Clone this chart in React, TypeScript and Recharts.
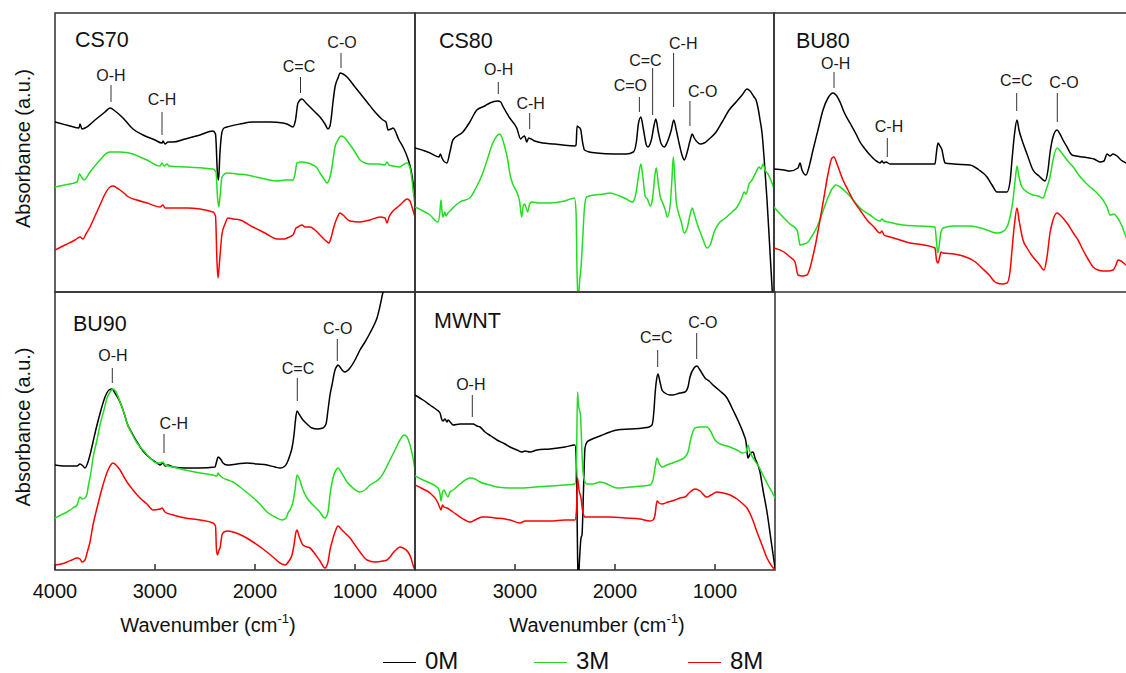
import React from 'react';
import { LineChart, Line, XAxis, YAxis, ReferenceArea, ReferenceLine, ReferenceDot } from 'recharts';

// FTIR spectra of the five samples, each treated at 0M, 3M and 8M.
// Points are [wavenumber (cm-1), absorbance (a.u., curves stacked with an offset)].
type Pt = [number, number];

const FONT = "Arial, 'Liberation Sans', Helvetica, sans-serif";
const WN_DOMAIN: [number, number] = [400, 4000];
const WN_TICKS = [4000, 3000, 2000, 1000];
const SERIES_NAMES = ['0M', '3M', '8M'];
const SERIES_COLORS = ['#000000', '#22dd22', '#ff0000'];

// ---------- CS70 ----------
const CS70_0M: Pt[] = [
  [4000, 170], [3850, 166], [3760, 164], [3750, 168], [3730, 163], [3700, 164], [3600, 172], [3500, 180],
  [3450, 184], [3400, 181], [3320, 174], [3220, 163], [3120, 157], [3000, 152], [2930, 149], [2920, 151],
  [2900, 148], [2870, 150], [2820, 150], [2700, 153], [2550, 157], [2420, 161], [2395, 158], [2375, 118],
  [2365, 112], [2350, 140], [2330, 160], [2310, 164], [2280, 165], [2150, 168], [2020, 170], [1850, 170],
  [1720, 169], [1680, 168], [1620, 165], [1595, 172], [1570, 189], [1530, 193], [1490, 189], [1450, 185],
  [1400, 180], [1350, 175], [1300, 168], [1270, 163], [1250, 166], [1240, 172], [1220, 190], [1200, 205],
  [1170, 214], [1150, 219], [1120, 218], [1080, 215], [1000, 205], [880, 190], [800, 180], [720, 172],
  [690, 170], [670, 162], [640, 163], [620, 164], [560, 152], [520, 145], [470, 133], [440, 122],
  [420, 110], [400, 95],
];
const CS70_3M: Pt[] = [
  [4000, 105], [3900, 107], [3780, 110], [3755, 118], [3740, 116], [3710, 112], [3650, 120], [3550, 132],
  [3480, 139], [3450, 140], [3350, 140], [3220, 138], [3150, 135], [3080, 132], [2950, 126], [2930, 129],
  [2910, 126], [2880, 128], [2860, 126], [2680, 125], [2420, 123], [2390, 120], [2375, 95], [2362, 85],
  [2350, 95], [2330, 115], [2280, 119], [2180, 118], [2080, 117], [1900, 113], [1780, 111], [1700, 112],
  [1620, 112], [1600, 118], [1580, 129], [1530, 130], [1470, 129], [1420, 127], [1380, 124], [1350, 119],
  [1310, 113], [1280, 109], [1250, 115], [1230, 125], [1200, 145], [1170, 152], [1140, 156], [1100, 154],
  [1070, 150], [1000, 140], [950, 132], [900, 129], [850, 128], [760, 128], [700, 127], [680, 130],
  [660, 127], [620, 126], [560, 125], [520, 127], [480, 129], [450, 124], [430, 112], [415, 98], [400, 87],
];
const CS70_8M: Pt[] = [
  [4000, 42], [3900, 47], [3800, 52], [3750, 55], [3720, 53], [3690, 58], [3650, 65], [3600, 76],
  [3550, 87], [3500, 98], [3450, 105], [3420, 106], [3380, 104], [3350, 102], [3300, 98], [3280, 96],
  [3180, 92], [3080, 89], [2950, 85], [2920, 87], [2900, 84], [2680, 84], [2420, 80], [2395, 76],
  [2380, 30], [2370, 14], [2355, 30], [2330, 58], [2300, 68], [2270, 74], [2220, 73], [2150, 72],
  [2020, 65], [1900, 59], [1780, 53], [1700, 53], [1680, 54], [1620, 57], [1590, 64], [1570, 65],
  [1530, 67], [1500, 65], [1450, 65], [1400, 62], [1350, 57], [1300, 52], [1260, 49], [1240, 54],
  [1220, 62], [1180, 74], [1150, 79], [1120, 77], [1080, 73], [1050, 71], [950, 70], [850, 72],
  [750, 75], [700, 74], [680, 69], [660, 75], [620, 81], [560, 86], [520, 90], [480, 93], [450, 91],
  [430, 85], [400, 75],
];

// ---------- CS80 ----------
const CS80_0M: Pt[] = [
  [4000, 144], [3900, 141], [3850, 139], [3760, 135], [3745, 138], [3730, 134], [3680, 129], [3650, 140],
  [3620, 152], [3520, 160], [3450, 170], [3380, 182], [3300, 186], [3250, 189], [3170, 191], [3140, 190],
  [3120, 186], [3050, 174], [2980, 164], [2940, 153], [2920, 155], [2900, 156], [2880, 150], [2860, 154],
  [2800, 151], [2720, 149], [2600, 148], [2520, 147], [2400, 146], [2385, 147], [2375, 166], [2360, 165],
  [2340, 163], [2320, 150], [2300, 142], [2250, 140], [2180, 139], [2000, 138], [1880, 138], [1810, 140],
  [1780, 150], [1760, 168], [1735, 175], [1710, 163], [1680, 147], [1665, 145], [1630, 152], [1600, 168],
  [1585, 173], [1560, 160], [1530, 148], [1500, 145], [1470, 150], [1430, 162], [1405, 172], [1380, 162],
  [1350, 148], [1320, 136], [1300, 132], [1270, 140], [1240, 152], [1220, 158], [1200, 154], [1170, 150],
  [1140, 148], [1100, 149], [1050, 153], [980, 160], [920, 170], [850, 182], [780, 190], [720, 197],
  [670, 203], [640, 201], [600, 195], [580, 192], [560, 184], [540, 172], [520, 159], [500, 135],
  [470, 92], [440, 40], [420, 5], [400, -30],
];
const CS80_3M: Pt[] = [
  [4000, 85], [3900, 80], [3850, 77], [3770, 70], [3750, 80], [3740, 92], [3730, 82], [3720, 75],
  [3700, 80], [3690, 76], [3670, 79], [3640, 82], [3600, 86], [3550, 90], [3450, 94], [3400, 102],
  [3320, 119], [3270, 134], [3220, 149], [3180, 156], [3150, 158], [3130, 155], [3100, 145], [3070, 132],
  [3050, 119], [3020, 108], [2980, 100], [2950, 90], [2930, 75], [2915, 86], [2900, 88], [2885, 84],
  [2870, 80], [2850, 88], [2830, 90], [2750, 89], [2650, 89], [2500, 91], [2400, 94], [2385, 80],
  [2375, 20], [2365, -10], [2350, 10], [2335, 25], [2320, 50], [2300, 85], [2280, 95], [2200, 97],
  [2100, 98], [2050, 99], [1950, 96], [1880, 93], [1820, 90], [1790, 96], [1760, 115], [1735, 128],
  [1715, 115], [1690, 95], [1670, 93], [1640, 86], [1620, 92], [1590, 120], [1580, 124], [1560, 108],
  [1540, 95], [1520, 90], [1490, 82], [1470, 75], [1440, 88], [1425, 110], [1410, 135], [1395, 115],
  [1380, 90], [1360, 80], [1330, 70], [1300, 59], [1270, 64], [1240, 78], [1220, 84], [1200, 78],
  [1170, 68], [1140, 60], [1110, 52], [1070, 44], [1040, 47], [1000, 60], [950, 69], [900, 73],
  [820, 80], [770, 85], [720, 95], [700, 100], [680, 98], [650, 108], [620, 112], [580, 120],
  [550, 125], [530, 123], [510, 128], [490, 122], [460, 118], [420, 109], [400, 103],
];

// ---------- BU80 ----------
const BU80_0M: Pt[] = [
  [4000, 123], [3900, 122], [3840, 121], [3760, 124], [3740, 129], [3720, 122], [3680, 117], [3650, 125],
  [3610, 142], [3560, 162], [3510, 182], [3460, 194], [3410, 199], [3380, 197], [3340, 190], [3300, 180],
  [3240, 169], [3180, 158], [3140, 150], [3090, 143], [3040, 137], [2990, 132], [2940, 129], [2920, 131],
  [2905, 129], [2880, 130], [2840, 128], [2640, 128], [2390, 128], [2375, 140], [2360, 149], [2340, 146],
  [2320, 142], [2300, 132], [2290, 129], [2200, 128], [2040, 127], [1950, 122], [1870, 115], [1820, 107],
  [1770, 100], [1720, 100], [1670, 100], [1640, 110], [1620, 132], [1595, 158], [1570, 172], [1550, 162],
  [1510, 149], [1470, 138], [1410, 122], [1350, 116], [1290, 111], [1260, 122], [1240, 139], [1210, 155],
  [1170, 162], [1140, 158], [1110, 152], [1070, 145], [1020, 137], [980, 136], [910, 135], [850, 134],
  [800, 133], [740, 130], [700, 131], [670, 138], [640, 136], [610, 138], [570, 136], [530, 132],
  [480, 129], [440, 127], [400, 125],
];
const BU80_3M: Pt[] = [
  [4000, 85], [3910, 75], [3840, 68], [3770, 62], [3750, 52], [3740, 47], [3700, 48], [3670, 49],
  [3620, 56], [3570, 65], [3520, 78], [3470, 92], [3420, 103], [3380, 107], [3340, 105], [3270, 99],
  [3200, 91], [3140, 84], [3040, 77], [2940, 71], [2920, 73], [2900, 71], [2860, 70], [2710, 67],
  [2550, 66], [2390, 65], [2375, 50], [2362, 39], [2350, 45], [2330, 60], [2310, 64], [2200, 66],
  [2040, 66], [1900, 63], [1770, 59], [1720, 60], [1670, 65], [1640, 75], [1610, 92], [1585, 115],
  [1570, 126], [1550, 115], [1520, 105], [1470, 100], [1410, 97], [1360, 96], [1310, 94], [1280, 102],
  [1240, 115], [1210, 132], [1170, 144], [1130, 140], [1070, 132], [1000, 124], [960, 118], [910, 112],
  [850, 106], [780, 100], [710, 92], [670, 85], [640, 77], [600, 78], [570, 75], [520, 66], [480, 55],
  [440, 48], [400, 42],
];
const BU80_8M: Pt[] = [
  [4000, 44], [3900, 40], [3840, 35], [3790, 30], [3760, 17], [3720, 16], [3670, 17], [3640, 24],
  [3620, 32], [3580, 50], [3540, 72], [3500, 95], [3460, 118], [3420, 134], [3400, 135], [3370, 128],
  [3310, 112], [3260, 102], [3210, 92], [3140, 82], [3070, 72], [3000, 65], [2940, 59], [2920, 61],
  [2900, 57], [2840, 55], [2740, 52], [2640, 49], [2500, 47], [2390, 44], [2375, 32], [2360, 29],
  [2345, 34], [2330, 40], [2310, 39], [2200, 38], [2110, 36], [2000, 31], [1910, 23], [1840, 16],
  [1790, 10], [1770, 9], [1720, 8], [1670, 9], [1640, 20], [1620, 42], [1595, 68], [1570, 84],
  [1550, 72], [1510, 52], [1470, 44], [1410, 35], [1350, 28], [1300, 22], [1270, 35], [1240, 59],
  [1210, 72], [1170, 79], [1130, 76], [1070, 69], [1000, 58], [960, 52], [910, 42], [860, 33],
  [810, 25], [760, 22], [710, 21], [660, 21], [610, 22], [580, 27], [560, 32], [530, 31], [480, 27],
  [440, 24], [400, 22],
];

// ---------- BU90 ----------
const BU90_0M: Pt[] = [
  [4000, 105], [3900, 104], [3780, 104], [3750, 106], [3720, 104], [3700, 102], [3670, 108], [3650, 115],
  [3620, 128], [3580, 145], [3540, 160], [3500, 173], [3460, 180], [3430, 181], [3400, 177], [3350, 168],
  [3300, 154], [3280, 147], [3230, 137], [3180, 128], [3120, 119], [3050, 112], [2980, 107], [2950, 105],
  [2920, 107], [2900, 104], [2870, 105], [2820, 103], [2700, 102], [2550, 102], [2400, 103], [2385, 108],
  [2370, 113], [2345, 111], [2320, 107], [2280, 105], [2180, 106], [2080, 107], [1980, 106], [1880, 105],
  [1800, 103], [1750, 102], [1700, 104], [1680, 107], [1650, 115], [1630, 122], [1610, 135], [1595, 150],
  [1580, 159], [1560, 156], [1520, 150], [1480, 146], [1430, 142], [1380, 141], [1320, 142], [1290, 146],
  [1270, 160], [1250, 175], [1230, 185], [1200, 200], [1180, 204], [1170, 205], [1150, 203], [1120, 199],
  [1100, 198], [1080, 199], [1050, 202], [1000, 210], [950, 220], [900, 228], [850, 237], [800, 247],
  [780, 252], [750, 264], [720, 278], [650, 300], [550, 330], [450, 360], [400, 375],
];
const BU90_3M: Pt[] = [
  [4000, 52], [3940, 55], [3880, 58], [3820, 62], [3780, 65], [3750, 73], [3730, 71], [3700, 72],
  [3680, 76], [3670, 82], [3640, 98], [3620, 112], [3580, 130], [3550, 145], [3510, 160], [3480, 172],
  [3450, 178], [3420, 181], [3390, 178], [3350, 168], [3300, 154], [3280, 147], [3230, 136], [3180, 127],
  [3120, 120], [3050, 112], [2980, 107], [2950, 107], [2920, 108], [2900, 105], [2820, 103], [2700, 100],
  [2550, 97], [2420, 95], [2380, 94], [2370, 97], [2355, 95], [2320, 92], [2270, 90], [2220, 88],
  [2150, 83], [2050, 75], [1960, 67], [1880, 58], [1800, 53], [1730, 50], [1690, 52], [1670, 57],
  [1640, 62], [1620, 68], [1600, 80], [1580, 95], [1560, 92], [1520, 80], [1480, 72], [1420, 65],
  [1360, 59], [1300, 52], [1270, 58], [1250, 75], [1220, 92], [1190, 100], [1170, 102], [1140, 98],
  [1080, 88], [1020, 82], [950, 78], [900, 80], [850, 85], [800, 88], [750, 92], [700, 100], [650, 110],
  [600, 120], [550, 130], [510, 135], [480, 133], [450, 125], [420, 112], [400, 100],
];
const BU90_8M: Pt[] = [
  [4000, 5], [3940, 6], [3880, 8], [3830, 10], [3780, 12], [3750, 11], [3730, 8], [3700, 10],
  [3680, 17], [3650, 28], [3620, 45], [3580, 62], [3520, 85], [3470, 100], [3420, 107], [3390, 105],
  [3350, 100], [3310, 93], [3280, 88], [3220, 80], [3150, 72], [3080, 66], [3020, 60], [2950, 61],
  [2930, 62], [2900, 58], [2820, 55], [2700, 52], [2550, 50], [2420, 47], [2395, 44], [2385, 20],
  [2375, 15], [2360, 20], [2350, 22], [2330, 35], [2310, 38], [2270, 39], [2220, 38], [2120, 34],
  [2020, 28], [1920, 21], [1820, 13], [1750, 7], [1700, 5], [1660, 9], [1630, 15], [1610, 25],
  [1590, 38], [1580, 40], [1560, 34], [1520, 25], [1480, 23], [1450, 22], [1400, 16], [1350, 9],
  [1300, 2], [1270, 8], [1250, 20], [1230, 28], [1200, 38], [1170, 44], [1140, 41], [1100, 37],
  [1050, 32], [1000, 25], [950, 18], [880, 10], [800, 8], [720, 9], [680, 10], [650, 13], [620, 17],
  [580, 21], [550, 23], [520, 22], [470, 18], [440, 12], [420, 5], [400, 0],
];

// ---------- MWNT ----------
const MWNT_0M: Pt[] = [
  [4000, 175], [3920, 170], [3850, 165], [3780, 160], [3750, 157], [3730, 150], [3720, 149], [3700, 151],
  [3680, 148], [3670, 150], [3640, 147], [3620, 145], [3550, 146], [3420, 146], [3380, 144], [3350, 143],
  [3300, 138], [3240, 134], [3180, 130], [3100, 126], [3050, 123], [2980, 120], [2930, 118], [2900, 119],
  [2850, 118], [2780, 120], [2650, 121], [2500, 123], [2400, 125], [2385, 100], [2375, 20], [2368, -15],
  [2355, 10], [2340, 32], [2330, 35], [2315, 80], [2300, 122], [2280, 128], [2250, 130], [2150, 134],
  [2050, 138], [1980, 140], [1850, 141], [1720, 142], [1660, 143], [1630, 145], [1610, 160], [1600, 175],
  [1585, 190], [1570, 196], [1550, 188], [1530, 180], [1500, 177], [1450, 175], [1420, 175], [1350, 177],
  [1300, 178], [1270, 183], [1250, 193], [1210, 202], [1180, 204], [1150, 200], [1120, 195], [1100, 192],
  [1060, 189], [1020, 185], [950, 179], [880, 172], [820, 160], [750, 145], [710, 135], [690, 128],
  [680, 118], [670, 112], [650, 116], [620, 118], [600, 112], [550, 98], [520, 80], [480, 58],
  [440, 30], [400, 2],
];
const MWNT_3M: Pt[] = [
  [4000, 94], [3920, 90], [3850, 87], [3770, 82], [3750, 76], [3740, 69], [3725, 78], [3710, 80],
  [3690, 76], [3670, 73], [3650, 78], [3620, 80], [3550, 86], [3480, 91], [3450, 92], [3400, 91],
  [3350, 88], [3250, 85], [3180, 83], [3050, 82], [2950, 82], [2800, 83], [2650, 84], [2500, 85],
  [2400, 86], [2385, 110], [2375, 178], [2365, 165], [2345, 155], [2335, 130], [2320, 98], [2300, 88],
  [2280, 86], [2220, 86], [2150, 88], [2080, 86], [1980, 82], [1850, 83], [1720, 84], [1650, 85],
  [1620, 90], [1600, 102], [1580, 112], [1560, 107], [1530, 103], [1480, 105], [1400, 108], [1350, 110],
  [1300, 113], [1270, 118], [1240, 132], [1200, 142], [1150, 143], [1080, 143], [1040, 138], [1000, 130],
  [980, 128], [920, 125], [850, 123], [780, 120], [720, 117], [690, 118], [670, 125], [650, 118],
  [620, 112], [560, 103], [520, 95], [470, 85], [430, 78], [400, 72],
];
const MWNT_8M: Pt[] = [
  [4000, 85], [3920, 81], [3850, 77], [3770, 67], [3750, 62], [3740, 60], [3725, 65], [3710, 63],
  [3680, 62], [3620, 58], [3550, 53], [3500, 50], [3450, 48], [3400, 50], [3330, 53], [3280, 53],
  [3200, 52], [3100, 51], [3050, 50], [2950, 47], [2900, 49], [2800, 49], [2650, 49], [2500, 50],
  [2400, 50], [2385, 60], [2375, 92], [2360, 80], [2340, 72], [2325, 60], [2300, 53], [2200, 53],
  [2050, 53], [1900, 52], [1750, 51], [1650, 49], [1620, 50], [1600, 55], [1580, 69], [1560, 67],
  [1530, 66], [1470, 68], [1400, 70], [1350, 72], [1300, 73], [1250, 78], [1200, 81], [1150, 79],
  [1100, 74], [1080, 73], [1040, 75], [980, 78], [920, 77], [850, 75], [780, 71], [720, 66], [680, 62],
  [630, 52], [580, 38], [530, 25], [480, 12], [440, 5], [400, 0],
];

// Band assignments: label, label position (wn, a) and marker line (wn, top a, bottom a).
type Peak = [string, number, number, number, number, number];
const CS70_PEAKS: Peak[] = [
  ['O-H', 3440, 217, 3440, 207, 190],
  ['C-H', 2930, 193, 2930, 180, 157],
  ['C=C', 1560, 226, 1545, 215, 199],
  ['C-O', 1130, 250, 1140, 239, 224],
];
const CS80_PEAKS: Peak[] = [
  ['O-H', 3160, 223, 3165, 210, 198],
  ['C-H', 2840, 189, 2850, 179, 163],
  ['C=O', 1840, 207, 1750, 195, 180],
  ['C=C', 1690, 232, 1617, 224, 177],
  ['C-H', 1310, 249, 1407, 239, 185],
  ['C-O', 1115, 201, 1243, 191, 166],
];
const BU80_PEAKS: Peak[] = [
  ['O-H', 3383, 229, 3400, 220, 204],
  ['C-H', 2850, 166, 2867, 154, 135],
  ['C=C', 1577, 212, 1573, 199, 181],
  ['C-O', 1100, 210, 1167, 199, 170],
];
const BU90_PEAKS: Peak[] = [
  ['O-H', 3420, 215, 3427, 202, 187],
  ['C-H', 2812, 147, 2910, 136, 117],
  ['C=C', 1570, 202, 1577, 192, 169],
  ['C-O', 1173, 242, 1177, 231, 209],
];
const MWNT_PEAKS: Peak[] = [
  ['O-H', 3442, 186, 3427, 175, 153],
  ['C=C', 1587, 233, 1573, 220, 203],
  ['C-O', 1122, 248, 1183, 237, 211],
];

// Panel layout (page pixels of the framed plot area).
type PanelSpec = {
  title: string;
  series: Pt[][];
  peaks: Peak[];
  x: number; y: number; w: number; h: number;
  leftAxis: boolean; bottomAxis: boolean;
  titleDx: number; titleDy: number; xTitleDx: number;
};

const PANELS: PanelSpec[] = [
  { title: 'CS70', series: [CS70_0M, CS70_3M, CS70_8M], peaks: CS70_PEAKS, x: 55, y: 13, w: 360, h: 279, leftAxis: true, bottomAxis: false, titleDx: 20, titleDy: 34, xTitleDx: 0 },
  { title: 'CS80', series: [CS80_0M, CS80_3M], peaks: CS80_PEAKS, x: 415, y: 13, w: 359, h: 279, leftAxis: false, bottomAxis: false, titleDx: 24, titleDy: 35, xTitleDx: 0 },
  { title: 'BU80', series: [BU80_0M, BU80_3M, BU80_8M], peaks: BU80_PEAKS, x: 774, y: 13, w: 360, h: 279, leftAxis: false, bottomAxis: false, titleDx: 22, titleDy: 35, xTitleDx: 0 },
  { title: 'BU90', series: [BU90_0M, BU90_3M, BU90_8M], peaks: BU90_PEAKS, x: 55, y: 292, w: 360, h: 278, leftAxis: true, bottomAxis: true, titleDx: 18, titleDy: 39, xTitleDx: -27 },
  { title: 'MWNT', series: [MWNT_0M, MWNT_3M, MWNT_8M], peaks: MWNT_PEAKS, x: 415, y: 292, w: 360, h: 278, leftAxis: false, bottomAxis: true, titleDx: 19, titleDy: 36, xTitleDx: 2 },
];

const toRows = (pts: Pt[]) => pts.map(([wn, a]) => ({ wn, a }));

const M = 4;
const Y_AXIS_W = 51;
const X_AXIS_H = 72;
const TICK_ROOM = 28; // room for the first tick label when there is no y axis
const FRAME = '#303030';

function Panel({ spec }: { spec: PanelSpec }) {
  const yW = spec.leftAxis ? Y_AXIS_W : 0;
  const extraL = !spec.leftAxis && spec.bottomAxis ? TICK_ROOM : 0;
  const xH = spec.bottomAxis ? X_AXIS_H : 0;
  const width = M + extraL + yW + spec.w + M;
  const height = M + spec.h + xH + M;

  const yTitle = (p: any) => {
    const vb = p.viewBox;
    const cx = vb.x + 19;
    const cy = vb.y + vb.height / 2 - 4;
    return (
      <text x={cx} y={cy} transform={`rotate(-90 ${cx} ${cy})`} textAnchor="middle" dominantBaseline="central"
        fontFamily={FONT} fontSize={20} fill="#111">
        Absorbance (a.u.)
      </text>
    );
  };

  const xTitle = (p: any) => {
    const vb = p.viewBox;
    const cx = vb.x + vb.width / 2 + spec.xTitleDx;
    return (
      <text x={cx} y={vb.y + 62} textAnchor="middle" fontFamily={FONT} fontSize={20} fill="#111">
        Wavenumber (cm
        <tspan dy={-9} fontSize={13}>-1</tspan>
        <tspan dy={9}>)</tspan>
      </text>
    );
  };

  const panelTitle = (p: any) => {
    const vb = p.viewBox;
    return (
      <text x={vb.x + spec.titleDx} y={vb.y + spec.titleDy} fontFamily={FONT} fontSize={21.5} fill="#111">
        {spec.title}
      </text>
    );
  };

  return (
    <div style={{ position: 'absolute', left: spec.x - M - extraL - yW, top: spec.y - M }}>
      <LineChart width={width} height={height} margin={{ top: M, right: M, bottom: M, left: M + extraL }}>
        <XAxis
          type="number"
          dataKey="wn"
          domain={WN_DOMAIN}
          reversed
          allowDataOverflow
          ticks={WN_TICKS}
          interval={0}
          height={xH}
          axisLine={false}
          tickSize={-6}
          tickMargin={20}
          tickLine={{ stroke: FRAME, strokeWidth: 1.5 }}
          tick={spec.bottomAxis ? { fontSize: 20, fill: '#111', fontFamily: FONT } : false}
          label={spec.bottomAxis ? { content: xTitle } : undefined}
        />
        {spec.leftAxis ? (
          <YAxis
            type="number"
            domain={[0, spec.h]}
            allowDataOverflow
            width={Y_AXIS_W}
            tick={false}
            tickLine={false}
            axisLine={false}
            label={{ content: yTitle }}
          />
        ) : (
          <YAxis type="number" domain={[0, spec.h]} allowDataOverflow hide />
        )}
        {spec.series.map((pts, i) => (
          <Line
            key={SERIES_NAMES[i]}
            data={toRows(pts)}
            dataKey="a"
            name={SERIES_NAMES[i]}
            type="monotone"
            stroke={SERIES_COLORS[i]}
            strokeWidth={1.5}
            dot={false}
            activeDot={false}
            isAnimationActive={false}
          />
        ))}
        {spec.peaks.map(([label, tWn, tA, lWn, lTop, lBottom], i) => (
          <ReferenceLine
            key={`l${i}`}
            segment={[{ x: lWn, y: lBottom }, { x: lWn, y: lTop }]}
            stroke="#333"
            strokeWidth={1}
          />
        ))}
        {spec.peaks.map(([label, tWn, tA], i) => (
          <ReferenceDot
            key={`t${i}`}
            x={tWn}
            y={tA}
            r={0}
            shape={(s: any) => (
              <text x={s.cx} y={s.cy} textAnchor="middle" dominantBaseline="central"
                fontFamily={FONT} fontSize={16} fill="#1a1a1a">
                {label}
              </text>
            )}
          />
        ))}
        <ReferenceArea
          x1={WN_DOMAIN[1]}
          x2={WN_DOMAIN[0]}
          y1={0}
          y2={spec.h}
          fill="none"
          fillOpacity={0}
          stroke={FRAME}
          strokeWidth={1.5}
          label={{ content: panelTitle }}
        />
      </LineChart>
    </div>
  );
}

const LEGEND_X = [383, 534, 688];

function SeriesLegend() {
  return (
    <svg width={1126} height={40} style={{ position: 'absolute', left: 0, top: 640 }}>
      {SERIES_NAMES.map((name, i) => (
        <g key={name}>
          <line x1={LEGEND_X[i]} x2={LEGEND_X[i] + 33} y1={22.5} y2={22.5} stroke={SERIES_COLORS[i]} strokeWidth={1.2} />
          <text x={LEGEND_X[i] + 42} y={29} fontFamily={FONT} fontSize={24} fill="#111">{name}</text>
        </g>
      ))}
    </svg>
  );
}

export default function App() {
  return (
    <div style={{ position: 'absolute', left: 0, top: 0, width: 1126, height: 673, overflow: 'hidden', background: '#fff' }}>
      {PANELS.map((p) => (
        <Panel key={p.title} spec={p} />
      ))}
      <SeriesLegend />
    </div>
  );
}
